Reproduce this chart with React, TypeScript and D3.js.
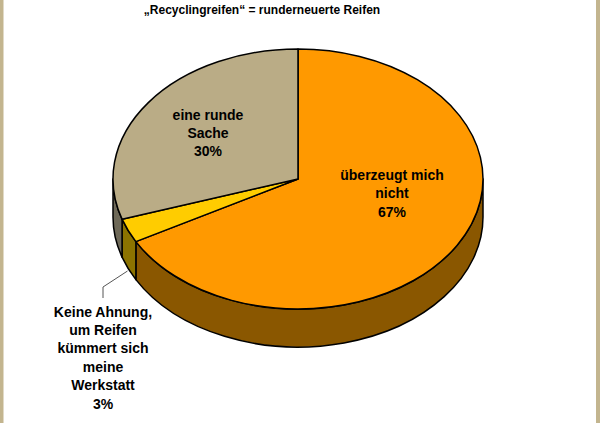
import React from 'react';
import * as d3 from 'd3';

// Survey answers, in drawing order (clockwise from 12 o'clock)
const categories = ['überzeugt mich nicht', 'Keine Ahnung, um Reifen kümmert sich meine Werkstatt', 'eine runde Sache'];
const values = [67, 3, 30];
const labelLines = [
  ['überzeugt mich', 'nicht', '67%'],
  ['Keine Ahnung,', 'um Reifen', 'kümmert sich', 'meine', 'Werkstatt', '3%'],
  ['eine runde', 'Sache', '30%'],
];
const topColors = ['#FF9900', '#FFCC00', '#BAAC86'];
const sideColors = ['#8A5700', '#8C7300', '#6E6958'];

const title = '\u201ERecyclingreifen\u201C = runderneuerte Reifen';

const W = 600;
const H = 423;
const FONT = '"Liberation Sans", Arial, sans-serif';

// ellipse geometry of the tilted pie
const cx = 298;
const cy = 179;
const rx = 185;
const ry = 130;
const depth = 38;

const pt = (a: number, dy = 0): [number, number] => [cx + rx * Math.sin(a), cy - ry * Math.cos(a) + dy];

const topPath = (a0: number, a1: number) => {
  const [x0, y0] = pt(a0);
  const [x1, y1] = pt(a1);
  const large = a1 - a0 > Math.PI ? 1 : 0;
  return `M${cx},${cy}L${x0},${y0}A${rx},${ry} 0 ${large} 1 ${x1},${y1}Z`;
};

// front wall only where the rim faces the viewer (between 3 and 9 o'clock)
const sidePath = (a0: number, a1: number) => {
  const s = Math.max(a0, Math.PI / 2);
  const e = Math.min(a1, (3 * Math.PI) / 2);
  if (e <= s) return null;
  const [x0, y0] = pt(s);
  const [x1, y1] = pt(e);
  return `M${x0},${y0}A${rx},${ry} 0 0 1 ${x1},${y1}L${x1},${y1 + depth}A${rx},${ry} 0 0 0 ${x0},${y0 + depth}Z`;
};

// label anchor (centre x, first baseline) per slice
const labelPos: [number, number][] = [
  [392, 180],
  [103, 316.5],
  [208, 119.5],
];
const lineGap = 18.4;

const App: React.FC = () => {
  const arcs = d3.pie<number>().sort(null).startAngle(0).endAngle(2 * Math.PI)(values);

  // leader for the small slice
  const leader = d3.line()([
    [103, 298],
    [103, 287],
    [127.5, 271],
  ]);

  return (
    <svg width={W} height={H} style={{ position: 'absolute', left: 0, top: 0 }} fontFamily={FONT}>
      <rect x={0} y={0} width={W} height={H} fill="#C3B58F" />
      <rect x={3.5} y={0} width={W - 7.5} height={H} fill="#fff" />

      <text x={262} y={14} textAnchor="middle" fontSize={12} fontWeight="bold" fill="#000">
        {title}
      </text>

      {arcs.map((a, i) => {
        const d = sidePath(a.startAngle, a.endAngle);
        return d ? (
          <path key={'s' + i} d={d} fill={sideColors[i]} stroke="#000" strokeWidth={1.5} strokeLinejoin="round" />
        ) : null;
      })}
      {arcs.map((a, i) => (
        <path
          key={'t' + i}
          d={topPath(a.startAngle, a.endAngle)}
          fill={topColors[i]}
          stroke="#000"
          strokeWidth={1.5}
          strokeLinejoin="round"
        >
          <title>{categories[i]}</title>
        </path>
      ))}

      <path d={leader ?? ''} fill="none" stroke="#555" strokeWidth={1} />

      {labelLines.map((lines, i) => (
        <text key={'l' + i} textAnchor="middle" fontSize={14} fontWeight="bold" fill="#000">
          {lines.map((ln, j) => (
            <tspan key={j} x={labelPos[i][0]} y={labelPos[i][1] + j * lineGap}>
              {ln}
            </tspan>
          ))}
        </text>
      ))}
    </svg>
  );
};

export default App;
